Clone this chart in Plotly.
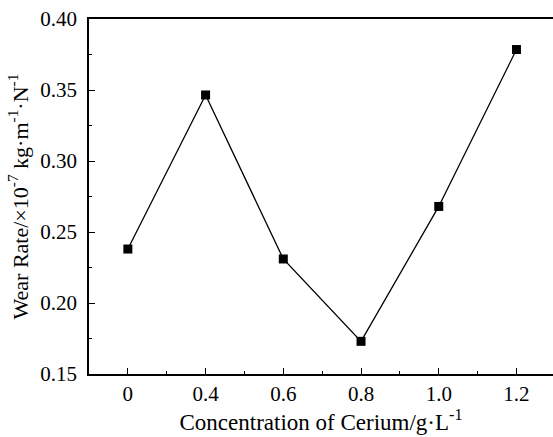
import plotly.graph_objects as go

concentration_labels = ["0", "0.4", "0.6", "0.8", "1.0", "1.2"]
wear_rate = [0.238, 0.3465, 0.231, 0.173, 0.268, 0.3785]
y_ticks = [0.15, 0.20, 0.25, 0.30, 0.35, 0.40]

x_idx = list(range(len(concentration_labels)))
font_family = "Liberation Serif, Times New Roman, serif"

fig = go.Figure()
fig.add_trace(go.Scatter(
    x=x_idx, y=wear_rate, mode="lines+markers",
    line=dict(color="black", width=1.3),
    marker=dict(symbol="square", size=9, color="black"),
    showlegend=False,
))

fig.update_layout(
    width=553, height=437,
    margin=dict(l=89, r=0, t=19, b=63),
    plot_bgcolor="white", paper_bgcolor="white",
    font=dict(family=font_family, color="black", size=21),
    xaxis=dict(
        range=[-0.5, 5.47],
        tickmode="array", tickvals=x_idx, ticktext=concentration_labels,
        ticks="inside", ticklen=6, tickwidth=1.3, tickcolor="black",
        minor=dict(tickmode="linear", tick0=0.5, dtick=1, ticks="inside",
                   ticklen=3, tickwidth=1.2, tickcolor="black"),
        showline=True, linecolor="black", linewidth=1.5, mirror=True,
        showgrid=False, zeroline=False, automargin=False,
        tickfont=dict(size=21),
        title=dict(text="Concentration of Cerium/g·L<sup>-1</sup>", font=dict(size=23), standoff=5),
    ),
    yaxis=dict(
        range=[0.15, 0.40],
        tickmode="array", tickvals=y_ticks, ticktext=[f"{v:.2f}" for v in y_ticks],
        ticks="inside", ticklen=6, tickwidth=1.3, tickcolor="black",
        minor=dict(tickmode="linear", tick0=0.175, dtick=0.05, ticks="inside",
                   ticklen=3, tickwidth=1.2, tickcolor="black"),
        showline=True, linecolor="black", linewidth=1.5, mirror=False,
        showgrid=False, zeroline=False, automargin=False,
        ticklabelstandoff=6,
        tickfont=dict(size=21),
        title=dict(text="Wear Rate/×10<sup>-7</sup> kg·m<sup>-1</sup>·N<sup>-1</sup>", font=dict(size=22), standoff=6),
    ),
)

fig.write_html("out.html")
